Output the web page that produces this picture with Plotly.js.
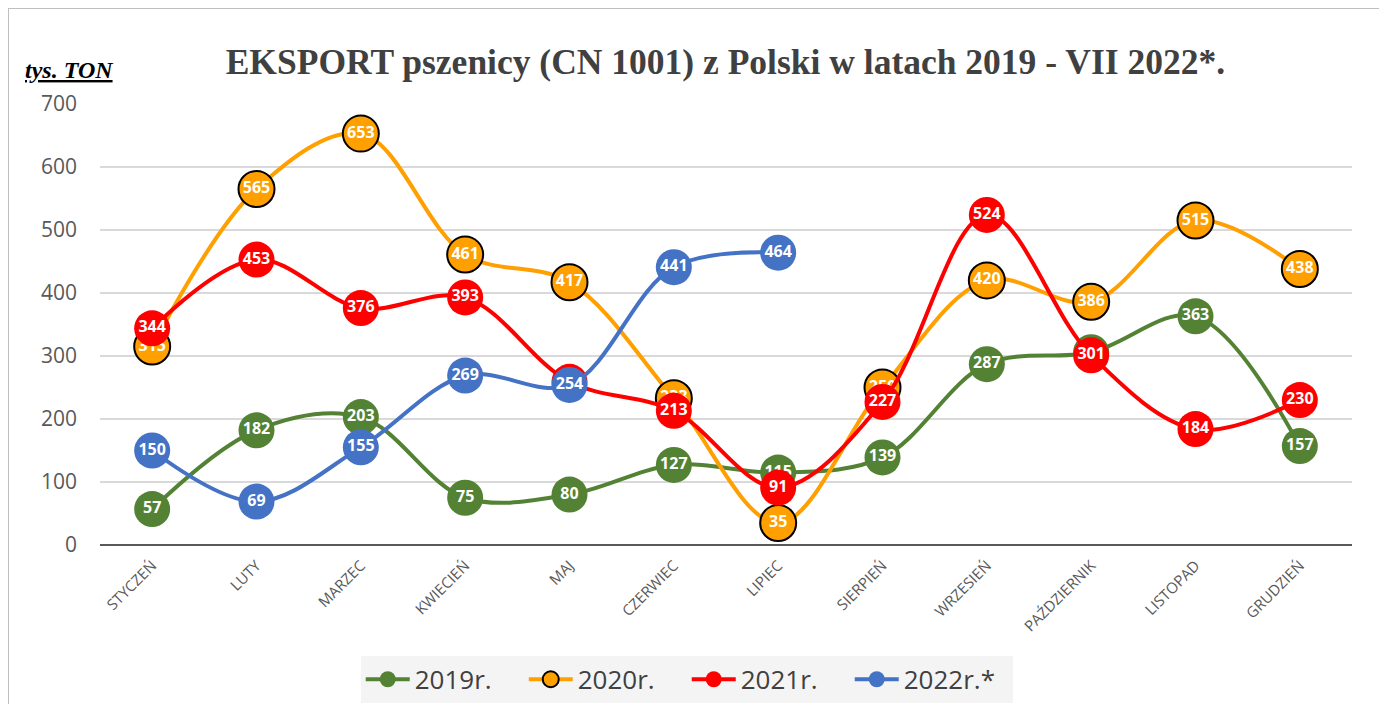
<!DOCTYPE html>
<html><head><meta charset="utf-8">
<script src="https://cdn.plot.ly/plotly-3.0.1.min.js"></script>
<style>
html,body{margin:0;padding:0;background:#fff;}
#wrap{position:relative;width:1379px;height:704px;overflow:hidden;}
#chart{width:1379px;height:704px;}
#frame{position:absolute;left:8px;top:8px;width:1379px;height:704px;border:1px solid #bfbfbf;box-sizing:border-box;pointer-events:none;}
</style>
</head><body>
<div id="wrap"><div id="chart"></div><div id="frame"></div></div>
<script>
const months = ['STYCZEŃ','LUTY','MARZEC','KWIECIEŃ','MAJ','CZERWIEC','LIPIEC','SIERPIEŃ','WRZESIEŃ','PAŹDZIERNIK','LISTOPAD','GRUDZIEŃ'];
const y2019 = [57,182,203,75,80,127,115,139,287,306,363,157];
const y2020 = [315,565,653,461,417,233,35,250,420,386,515,438];
const y2021 = [344,453,376,393,259,213,91,227,524,301,184,230];
const y2022 = [150,69,155,269,254,441,464];
const seriesNames = ['2019r.','2020r.','2021r.','2022r.*'];
const yTicks = [0,100,200,300,400,500,600,700];

function mk(name, y, color, outline){
  return {
    type:'scatter', mode:'lines+markers+text', name:name,
    x: months.slice(0, y.length), y:y,
    text: y.map(String), textposition:'middle center',
    textfont:{family:'Open Sans, DejaVu Sans, sans-serif', size:16, color:'#ffffff', weight:'bold'},
    line:{color:color, width:4, shape:'spline', smoothing:1},
    marker:{color:color, size:36, line:{color: outline ? '#000000' : color, width: outline ? 2 : 0}},
    cliponaxis:false
  };
}
const data = [
  mk(seriesNames[0], y2019, '#548235', false),
  mk(seriesNames[1], y2020, '#ff9f00', true),
  mk(seriesNames[2], y2021, '#ff0000', false),
  mk(seriesNames[3], y2022, '#4472c4', false)
];
const layout = {
  width:1379, height:704,
  margin:{l:100, r:27, t:104, b:159},
  paper_bgcolor:'#ffffff', plot_bgcolor:'#ffffff',
  title:{text:'<b>EKSPORT pszenicy (CN 1001) z Polski w latach 2019 - VII 2022*.</b>',
    font:{family:'Liberation Serif, Times New Roman, serif', size:35.5, color:'#404040'},
    x:0.526, xanchor:'center', xref:'container', y:0.912, yanchor:'middle', yref:'container'},
  xaxis:{type:'category', categoryarray:months, range:[-0.5,11.5], tickangle:-45,
    tickfont:{family:'Open Sans, sans-serif', size:15, color:'#595959'},
    showgrid:false, zeroline:false, showline:false, ticks:'', ticklabelstandoff:8, fixedrange:true},
  yaxis:{range:[0,700], tickvals:yTicks, ticktext:yTicks.map(String),
    tickfont:{family:'Open Sans, sans-serif', size:21, color:'#595959'},
    gridcolor:'#d9d9d9', gridwidth:1.5, zeroline:true, zerolinecolor:'#595959', zerolinewidth:1.5,
    showline:false, ticks:'', ticklabelstandoff:22, fixedrange:true},
  showlegend:true,
  legend:{orientation:'h', xref:'container', yref:'container', x:0.498, xanchor:'center', y:0.035, yanchor:'middle',
    bgcolor:'#f4f4f4', font:{family:'Open Sans, sans-serif', size:26, color:'#404040'},
    itemwidth:44, traceorder:'normal', entrywidth:104, entrywidthmode:'pixels'},
  annotations:[{text:'<b><i><u>tys. TON</u></i></b>', xref:'paper', yref:'paper', x:-0.024, y:1.043, xanchor:'center', yanchor:'bottom', showarrow:false,
    font:{family:'Liberation Serif, Times New Roman, serif', size:24, color:'#000000'}}]
};
Plotly.newPlot('chart', data, layout, {displayModeBar:false, staticPlot:true});
</script>
</body></html>
